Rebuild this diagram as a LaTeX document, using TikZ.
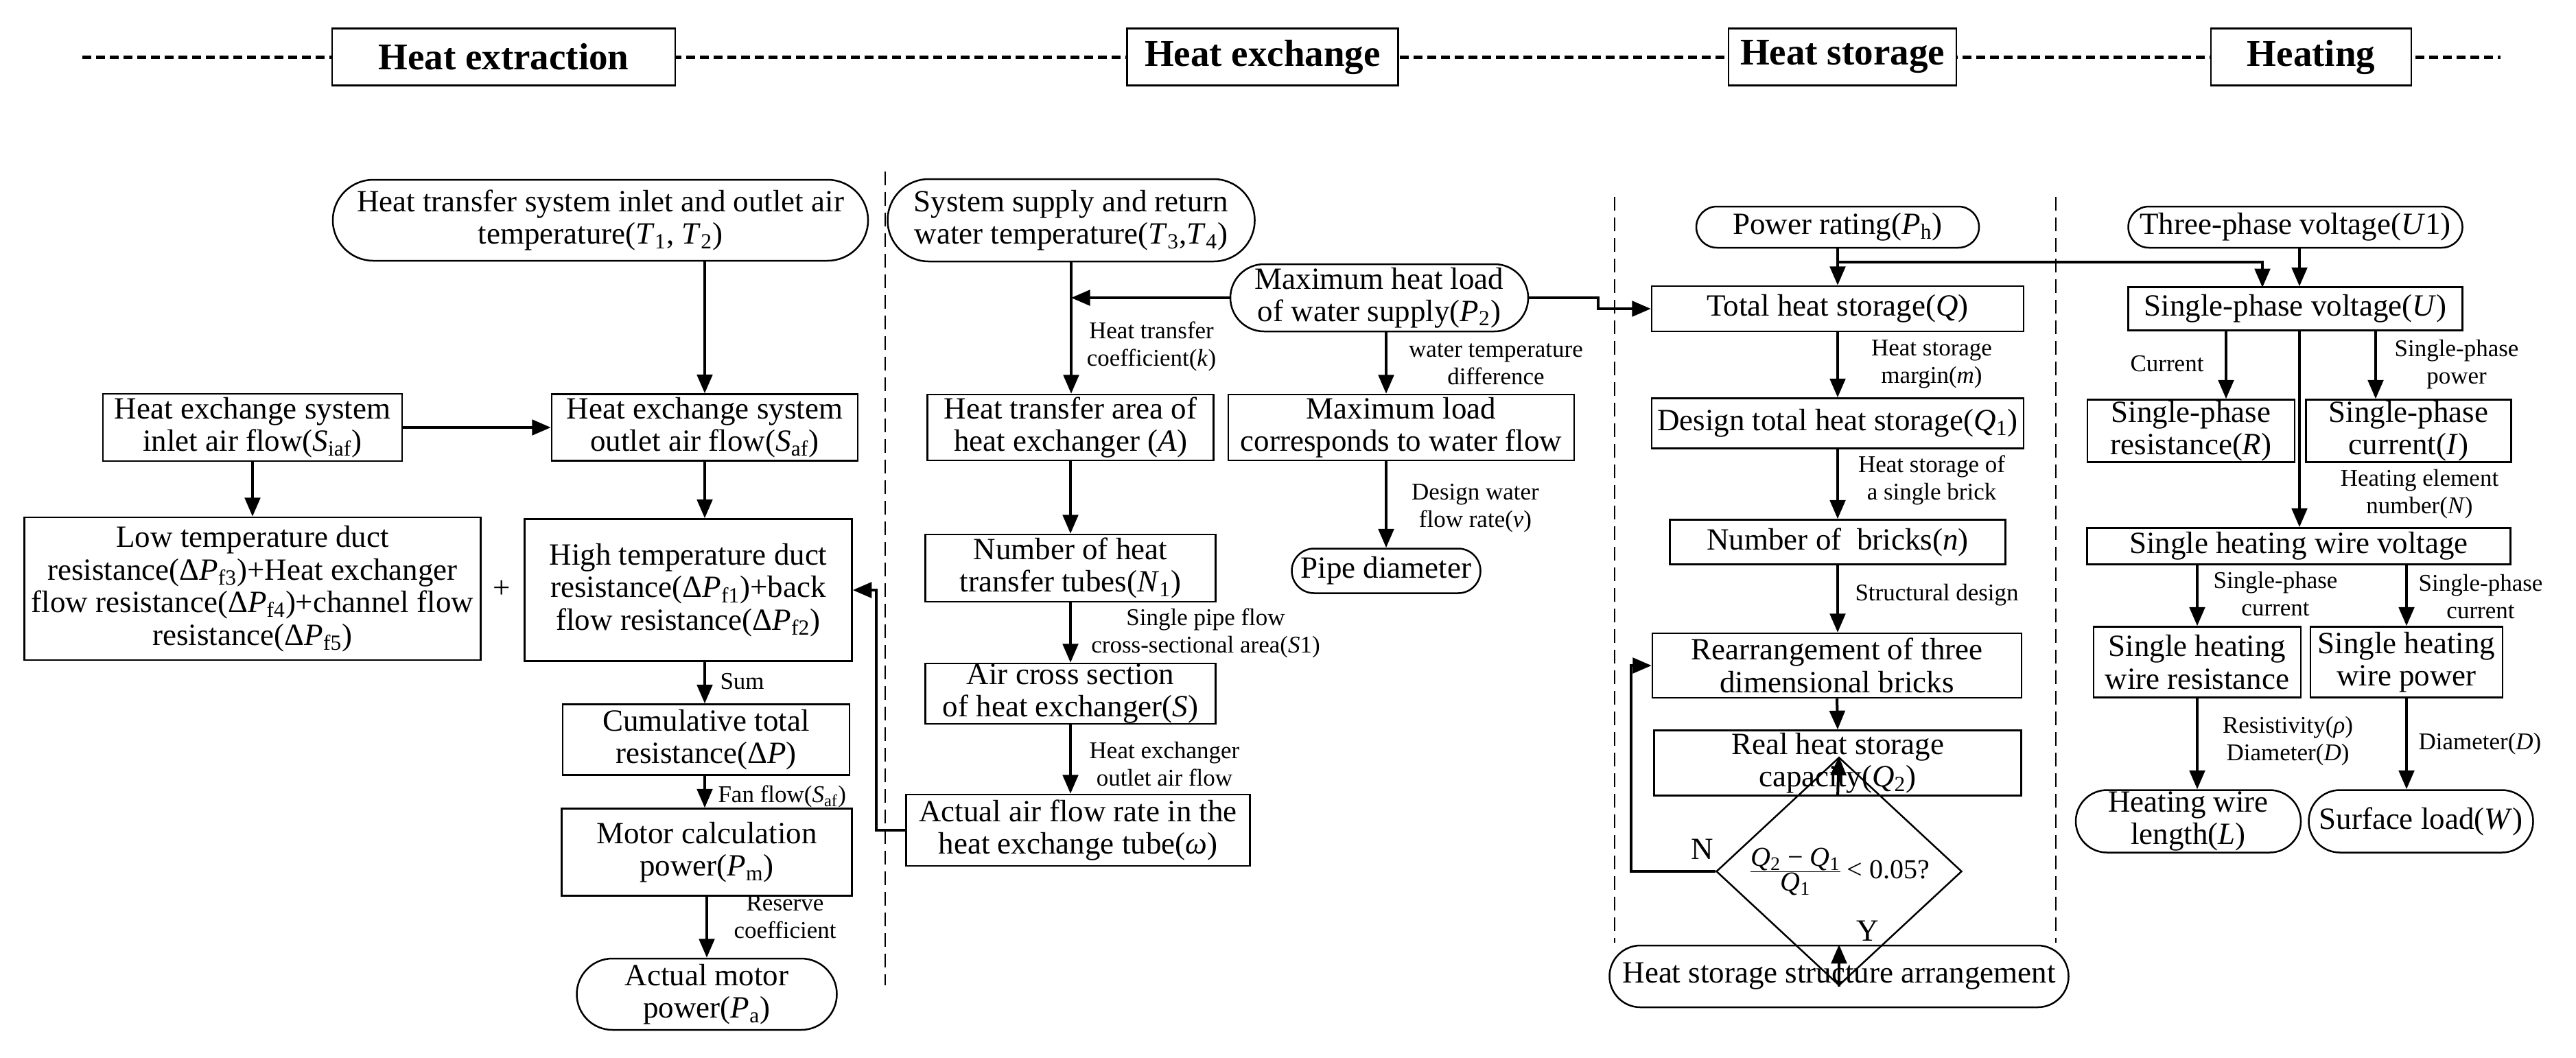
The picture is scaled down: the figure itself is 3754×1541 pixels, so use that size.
\documentclass[tikz,border=0pt]{standalone}
\usepackage{fontspec}
\setmainfont{Liberation Serif}
\usetikzlibrary{shapes.misc,shapes.geometric,arrows.meta}
\newcommand\sbs[1]{\textsubscript{#1}}
\newcommand\iv[1]{\textit{#1}}
\begin{document}
\begin{tikzpicture}[x=0.4pt,y=-0.4pt,
  base/.style={draw,line width=1pt,align=center,inner sep=0pt,font=\fontsize{18}{19}\selectfont},
  box/.style={base,rectangle},
  rbox/.style={base,rounded rectangle},
  hbox/.style={draw,line width=1pt,fill=white,inner sep=0pt,font=\fontsize{22}{24}\selectfont\bfseries,minimum height=33.2pt},
  lab/.style={align=center,inner sep=0pt,font=\fontsize{14}{16}\selectfont},
  arr/.style={line width=1.6pt,-{Triangle[length=11pt,width=9pt]}},
  ln/.style={line width=1.6pt},
  sep/.style={line width=1pt,dash pattern=on 8pt off 4pt},
  hd/.style={line width=2pt,dash pattern=on 5pt off 3pt}]
\useasboundingbox (0,0) rectangle (3754,1541);
% header
\draw[hd] (120,83) -- (3644,83);
\node[hbox,minimum width=200pt] (hx) at (734,83) {Heat extraction};
\node[hbox,minimum width=158pt] (hc) at (1840,83) {Heat exchange};
\node[hbox,minimum width=132.8pt] (hs) at (2685,83) {Heat storage};
\node[hbox,minimum width=116.8pt] (hh) at (3368,83) {Heating};
% separators
\draw[sep] (1290,250) -- (1290,1436);
\draw[sep] (2353,287) -- (2353,1374);
\draw[sep] (2996,287) -- (2996,1374);
% heat extraction
\node[rbox,minimum width=312pt,minimum height=47.2pt] (t12) at (875,321) {Heat transfer system inlet and outlet air\\temperature(\iv{T}\sbs{1}, \iv{T}\sbs{2})};
\node[box,minimum width=174.4pt,minimum height=39.2pt] (siaf) at (368,623) {Heat exchange system\\inlet air flow(\iv{S}\sbs{iaf})};
\node[box,minimum width=178.4pt,minimum height=38.8pt] (saf) at (1027,623) {Heat exchange system\\outlet air flow(\iv{S}\sbs{af})};
\node[box,minimum width=266pt,minimum height=83.2pt] (low) at (368,858) {Low temperature duct\\resistance(Δ\iv{P}\sbs{f3})+Heat exchanger\\flow resistance(Δ\iv{P}\sbs{f4})+channel flow\\resistance(Δ\iv{P}\sbs{f5})};
\node[lab,font=\fontsize{18}{19}\selectfont] (plus) at (731,859) {+};
\node[box,minimum width=190.8pt,minimum height=82.8pt] (high) at (1003,860) {High temperature duct\\resistance(Δ\iv{P}\sbs{f1})+back\\flow resistance(Δ\iv{P}\sbs{f2})};
\node[box,minimum width=167.2pt,minimum height=41.2pt] (cum) at (1029,1078) {Cumulative total\\resistance(Δ\iv{P})};
\node[box,minimum width=169.2pt,minimum height=50.8pt] (motor) at (1030,1242) {Motor calculation\\power(\iv{P}\sbs{m})};
\node[rbox,minimum width=151.6pt,minimum height=41.6pt] (act) at (1030,1449) {Actual motor\\power(\iv{P}\sbs{a})};
\draw[arr] (t12.south -| saf.north) -- (saf.north);
\draw[arr] (siaf.east) -- (saf.west);
\draw[arr] (siaf.south) -- (low.north);
\draw[arr] (saf.south) -- (saf.south |- high.north);
\draw[arr] (saf.south |- high.south) -- (saf.south |- cum.north);
\draw[arr] (saf.south |- cum.south) -- (saf.south |- motor.north);
\draw[arr] (motor.south) -- (act.north);
\node[lab,anchor=west] (lsum) at (1049,993) {Sum};
\node[lab,anchor=west] (lfan) at (1046,1161) {Fan flow(\iv{S}\sbs{af})};
\node[lab] (lres) at (1144,1336) {Reserve\\coefficient};
% heat exchange
\node[rbox,minimum width=214pt,minimum height=48pt] (t34) at (1561,321) {System supply and return\\water temperature(\iv{T}\sbs{3},\iv{T}\sbs{4})};
\node[rbox,minimum width=173.6pt,minimum height=39.2pt] (mh) at (2010,434) {Maximum heat load\\of water supply(\iv{P}\sbs{2})};
\node[box,minimum width=166.8pt,minimum height=38.4pt] (hta) at (1560,623) {Heat transfer area of\\heat exchanger (\iv{A})};
\node[box,minimum width=201.6pt,minimum height=38.4pt] (ml) at (2042,623) {Maximum load\\corresponds to water flow};
\node[rbox,minimum width=110pt,minimum height=26pt] (pipe) at (2020,832) {Pipe diameter};
\node[box,minimum width=169.2pt,minimum height=39.2pt] (nt) at (1560,828) {Number of heat\\transfer tubes(\iv{N}\sbs{1})};
\node[box,minimum width=169.2pt,minimum height=35.2pt] (air) at (1560,1011) {Air cross section\\of heat exchanger(\iv{S})};
\node[box,minimum width=200.4pt,minimum height=41.6pt] (om) at (1571,1210) {Actual air flow rate in the\\heat exchange tube(\iv{ω})};
\draw[arr] (t34.south) -- (t34.south |- hta.north);
\draw[arr] (mh.west) -- (t34.south |- mh.west);
\draw[arr] (pipe.north |- mh.south) -- (pipe.north |- ml.north);
\draw[arr] (pipe.north |- ml.south) -- (pipe.north);
\draw[arr] (hta.south) -- (nt.north);
\draw[arr] (nt.south) -- (air.north);
\draw[arr] (air.south) -- (air.south |- om.north);
\coordinate (fb) at (1277,1210);
\draw[arr] (om.west) -- (fb) |- (high.east);
\node[lab] at (1678,505) {Heat transfer\\coefficient(\iv{k})};
\node[lab] at (2180,531) {water temperature\\difference};
\node[lab] at (2150,741) {Design water\\flow rate(\iv{v})};
\node[lab] at (1757,923) {Single pipe flow\\cross-sectional area(\iv{S}1)};
\node[lab] at (1697,1114) {Heat exchanger\\outlet air flow};
% heat storage
\node[rbox,minimum width=164.8pt,minimum height=24pt] (pw) at (2678,331) {Power rating(\iv{P}\sbs{h})};
\node[box,minimum width=216.8pt,minimum height=26.4pt] (tot) at (2678,450) {Total heat storage(\iv{Q})};
\node[box,minimum width=216.8pt,minimum height=29.2pt] (des) at (2678,617) {Design total heat storage(\iv{Q}\sbs{1})};
\node[box,minimum width=195.6pt,minimum height=26pt] (nb) at (2678,790) {Number of\ \ bricks(\iv{n})};
\node[box,minimum width=215.2pt,minimum height=37.6pt] (rea) at (2677,970) {Rearrangement of three\\dimensional bricks};
\node[box,minimum width=214pt,minimum height=38pt] (real) at (2678,1112) {Real heat storage\\capacity(\iv{Q}\sbs{2})};
\node[draw,line width=1pt,diamond,inner sep=0pt,minimum width=143.2pt,minimum height=56.8pt,font=\fontsize{16}{17}\selectfont] (dia) at (2680,1270) {$\frac{\mbox{\iv{Q}\sbs{2} − \iv{Q}\sbs{1}}}{\mbox{\iv{Q}\sbs{1}}}$\,\mbox{< 0.05?}};
\node[rbox,minimum width=267.6pt,minimum height=36pt] (hsa) at (2680,1423) {Heat storage structure arrangement};
\coordinate (s1) at (2329,434);
\coordinate (s2) at (2329,450);
\draw[arr] (mh.east) -- (s1) -- (s2) -- (tot.west);
\draw[arr] (pw.south) -- (tot.north);
\draw[arr] (tot.south) -- (des.north);
\draw[arr] (des.south) -- (nb.north);
\draw[arr] (nb.south) -- (nb.south |- rea.north);
\draw[arr] (rea.south |- rea.south) -- (real.north);
\draw[arr] (real.south) -- (dia.north);
\draw[arr] (dia.south) -- (hsa.north);
\coordinate (nb1) at (2377,1270);
\draw[arr] (dia.west) -- (nb1) |- (rea.west);
\node[lab] at (2815,531) {Heat storage\\margin(\iv{m})};
\node[lab] at (2815,700) {Heat storage of\\a single brick};
\node[lab,anchor=west] at (2703,867) {Structural design};
\node[lab,font=\fontsize{18}{19}\selectfont] at (2481,1238) {N};
\node[lab,font=\fontsize{18}{19}\selectfont] at (2722,1357) {Y};
% heating
\node[rbox,minimum width=194.8pt,minimum height=24pt] (tp) at (3345,331) {Three-phase voltage(\iv{U}1)};
\node[box,minimum width=194.8pt,minimum height=25.2pt] (spv) at (3345,450) {Single-phase voltage(\iv{U})};
\node[box,minimum width=120.8pt,minimum height=36.4pt] (spr) at (3193,628) {Single-phase\\resistance(\iv{R})};
\node[box,minimum width=119.6pt,minimum height=36.4pt] (spc) at (3510,628) {Single-phase\\current(\iv{I})};
\node[box,minimum width=246.8pt,minimum height=21.2pt] (shwv) at (3350,796) {Single heating wire voltage};
\node[box,minimum width=120.8pt,minimum height=41.2pt] (shwr) at (3202,965) {Single heating\\wire resistance};
\node[box,minimum width=112pt,minimum height=41.2pt] (shwp) at (3507,965) {Single heating\\wire power};
\node[rbox,minimum width=131.2pt,minimum height=36.4pt] (hwl) at (3189,1197) {Heating wire\\length(\iv{L})};
\node[rbox,minimum width=130.8pt,minimum height=36.4pt] (surf) at (3528,1197) {Surface load(\iv{W})};
\coordinate (br) at (2678,382);
\coordinate (br2) at (3297,419);
\draw[arr] (br) -| (br2);
\coordinate (c1) at (3244,0);
\coordinate (c2) at (3351,0);
\coordinate (c3) at (3462,0);
\draw[arr] (tp.south -| c2) -- (spv.north -| c2);
\draw[arr] (spv.south -| c1) -- (spr.north -| c1);
\draw[arr] (spv.south -| c2) -- (shwv.north -| c2);
\draw[arr] (spv.south -| c3) -- (spc.north -| c3);
\draw[arr] (shwv.south -| shwr.north) -- (shwr.north);
\draw[arr] (shwv.south -| shwp.north) -- (shwp.north);
\draw[arr] (shwr.south) -- (shwr.south |- hwl.north);
\draw[arr] (shwp.south) -- (shwp.south |- surf.north);
\node[lab] at (3158,530) {Current};
\node[lab] at (3580,531) {Single-phase\\power};
\node[lab] at (3526,720) {Heating element\\number(\iv{N})};
\node[lab] at (3316,866) {Single-phase\\current};
\node[lab] at (3615,870) {Single-phase\\current};
\node[lab] at (3334,1080) {Resistivity(\iv{ρ})\\Diameter(\iv{D})};
\node[lab,anchor=west] at (3524,1084) {Diameter(\iv{D})};
\end{tikzpicture}
\end{document}
